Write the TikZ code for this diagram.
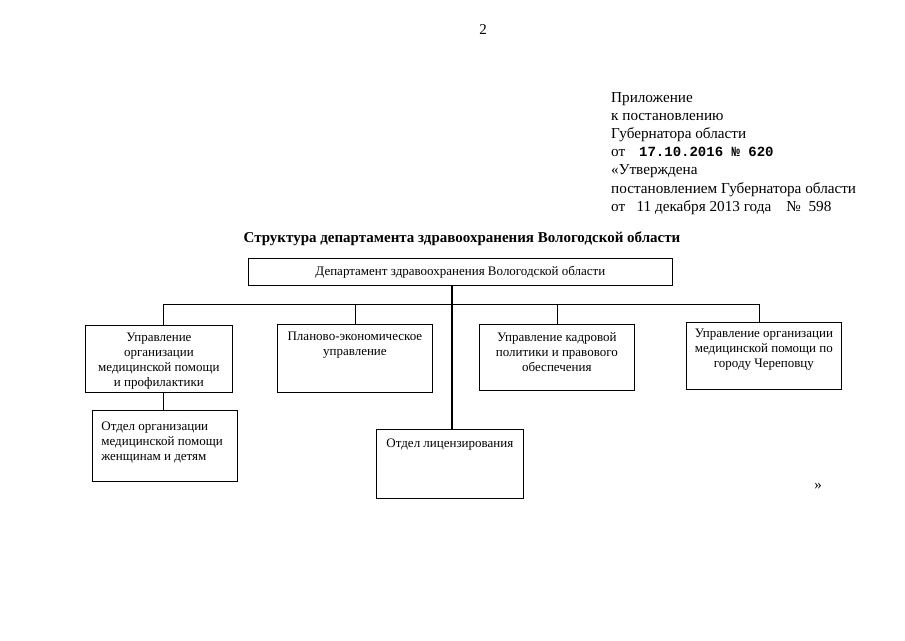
\documentclass[tikz,border=0pt]{standalone}
\usepackage{fontspec}
\setmainfont{Liberation Serif}
\newfontfamily\stampfont{Liberation Mono}
\begin{document}
\begin{tikzpicture}[x=1pt,y=-1pt,
  box/.style={draw, line width=0.8pt, inner sep=0pt, anchor=north west,
    font=\fontsize{13}{15}\selectfont},
  conn/.style={line width=0.8pt},
  trunkline/.style={line width=1.6pt}]
\useasboundingbox (0,0) rectangle (905,640);
\fill[white] (0,0) rectangle (905,640);

% page number
\node[font=\fontsize{15}{18}\selectfont] (pg) at (483,30) {2};

% appendix block
\node[anchor=north west, inner sep=0pt, align=left,
  font=\fontsize{15.2}{18.2}\selectfont] (app) at (611,92)
  {Приложение\\
   к постановлению\\
   Губернатора области\\
   от\ \ \ \,{\stampfont\bfseries\fontsize{14}{18.2}\selectfont 17.10.2016 № 620}\\
   «Утверждена\\
   постановлением Губернатора области\\
   от\ \ \ 11 декабря 2013 года\ \ \ \ №\ \ 598};

% title
\node[font=\fontsize{15}{17}\selectfont\bfseries] (title) at (462,239)
  {Структура департамента здравоохранения Вологодской области};

% boxes
\node[box] (top) at (248,258)
  {\parbox[c][27pt][c]{424pt}{\centering Департамент здравоохранения Вологодской области}};
\node[box] (b1) at (85,325)
  {\parbox[c][67pt][c]{147pt}{\vspace{4pt}\centering Управление\\ организации\\ медицинской помощи\\ и профилактики}};
\node[box] (b2) at (277,324)
  {\parbox[c][68pt][t]{155pt}{\vspace{8pt}\centering Планово-экономическое\\ управление}};
\node[box] (b3) at (479,324)
  {\parbox[c][66pt][t]{155pt}{\vspace{8pt}\centering Управление кадровой\\ политики и правового\\ обеспечения}};
\node[box] (b4) at (686,322)
  {\parbox[c][67pt][t]{155pt}{\vspace{7pt}\centering Управление организации\\ медицинской помощи по\\ городу Череповцу}};
\node[box] (b5) at (92,410)
  {\parbox[c][71pt][t]{145pt}{\vspace{11pt}\raggedright\leftskip=9pt Отдел организации\\ медицинской помощи\\ женщинам и детям}};
\node[box] (b6) at (376,429)
  {\parbox[c][69pt][t]{147pt}{\vspace{9pt}\centering Отдел лицензирования}};

% closing quote
\node[font=\fontsize{15}{17}\selectfont] (q) at (818,486) {»};

% connectors
\coordinate (bus) at (452,304);
\coordinate (d1) at (163,304);
\coordinate (d2) at (355,304);
\coordinate (d3) at (557,304);
\coordinate (d4) at (759,304);
\draw[trunkline] (top.south -| bus) -- (b6.north -| bus);
\draw[conn] (d1) -- (d4);
\draw[conn] (d1) -- (d1 |- b1.north);
\draw[conn] (d2) -- (d2 |- b2.north);
\draw[conn] (d3) -- (d3 |- b3.north);
\draw[conn] (d4) -- (d4 |- b4.north);
\draw[conn] (d1 |- b1.south) -- (d1 |- b5.north);
\end{tikzpicture}
\end{document}
